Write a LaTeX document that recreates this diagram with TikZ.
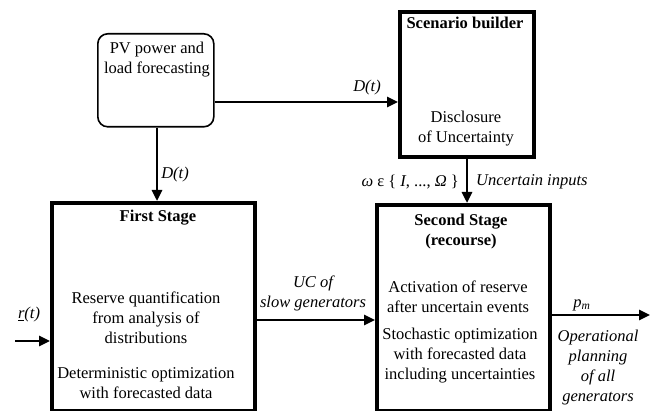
\documentclass[tikz,border=0pt]{standalone}
\usepackage{fontspec}
\setmainfont{Liberation Serif}
\usetikzlibrary{arrows.meta}
\begin{document}
\begin{tikzpicture}[x=1pt,y=-1pt,
  txt/.style={inner sep=0pt,align=center,font=\fontsize{16.5}{20}\selectfont},
  ttl/.style={txt,font=\fontsize{16.5}{20}\selectfont\bfseries},
  lbl/.style={inner sep=0pt,font=\fontsize{16.5}{20}\selectfont\itshape,align=center},
  bigbox/.style={draw,line width=4pt,inner sep=0pt},
  thinbox/.style={draw,line width=1.6pt,rounded corners=10pt,inner sep=0pt},
  flow/.style={line width=2.6pt,-{Triangle[length=11pt,width=10pt]}}]
\useasboundingbox (0,0) rectangle (650,411);
\fill[white] (0,0) rectangle (650,411);
% boxes
\node[thinbox,minimum width=116pt,minimum height=93pt,anchor=north west] (pv) at (97,33) {};
\node[bigbox,minimum width=134pt,minimum height=145pt,anchor=north west] (sc) at (398,10) {};
\node[bigbox,minimum width=203pt,minimum height=208pt,anchor=north west] (fs) at (50,201) {};
\node[bigbox,minimum width=173pt,minimum height=206pt,anchor=north west] (ss) at (375,203) {};
% texts
\node[txt] (pvt) at (157,60) {PV power and\\load forecasting};
\node[ttl] (sct) at (465,23) {Scenario builder};
\node[txt] (scb) at (466,129) {Disclosure\\of Uncertainty};
\node[ttl] (fst) at (158,218) {First Stage};
\node[txt] (fsb1) at (146,318) {Reserve quantification\\from analysis of\\distributions};
\node[txt] (fsb2) at (146,383) {Deterministic optimization\\with forecasted data};
\node[ttl] (sst) at (461,232) {Second Stage\\(recourse)};
\node[txt] (ssb1) at (458,297) {Activation of reserve\\after uncertain events};
\node[txt] (ssb2) at (460,356) {Stochastic optimization\\with forecasted data\\including uncertainties};
% connectors
\coordinate (pvr) at (pv.east |- 0,102);
\coordinate (scl) at (sc.west |- 0,102);
\draw[flow] (pv.south -| 157,0) -- (fs.north -| 157,0);
\draw[flow] (pvr) -- (scl);
\draw[flow] (sc.south -| 467,0) -- (ss.north -| 467,0);
\coordinate (fsr) at (fs.east |- 0,320);
\coordinate (ssl) at (ss.west |- 0,320);
\draw[flow] (fsr) -- (ssl);
\coordinate (rin) at (15,341);
\draw[flow] (rin) -- (fs.west |- rin);
\coordinate (pout) at (650,315);
\draw[flow] (ss.east |- pout) -- (pout);
% labels
\node[lbl] (d1) at (175,175) {D(t)};
\node[lbl] (d2) at (367,88) {D(t)};
\node[inner sep=0pt,anchor=east,font=\fontsize{16.5}{20}\selectfont] (om) at (459,182) {\textit{ω} ε \{ \textit{I}, ..., \textit{Ω} \}};
\node[lbl,anchor=west] (ui) at (476,182) {Uncertain inputs};
\node[lbl] (uc) at (313,293) {UC of\\slow generators};
\node[lbl] (rt) at (29,315) {\underline{r}(t)};
\node[lbl] (pm) at (582,305) {p\textsubscript{m}};
\node[lbl] (op) at (598,368) {Operational\\planning\\of all\\generators};
\end{tikzpicture}
\end{document}
